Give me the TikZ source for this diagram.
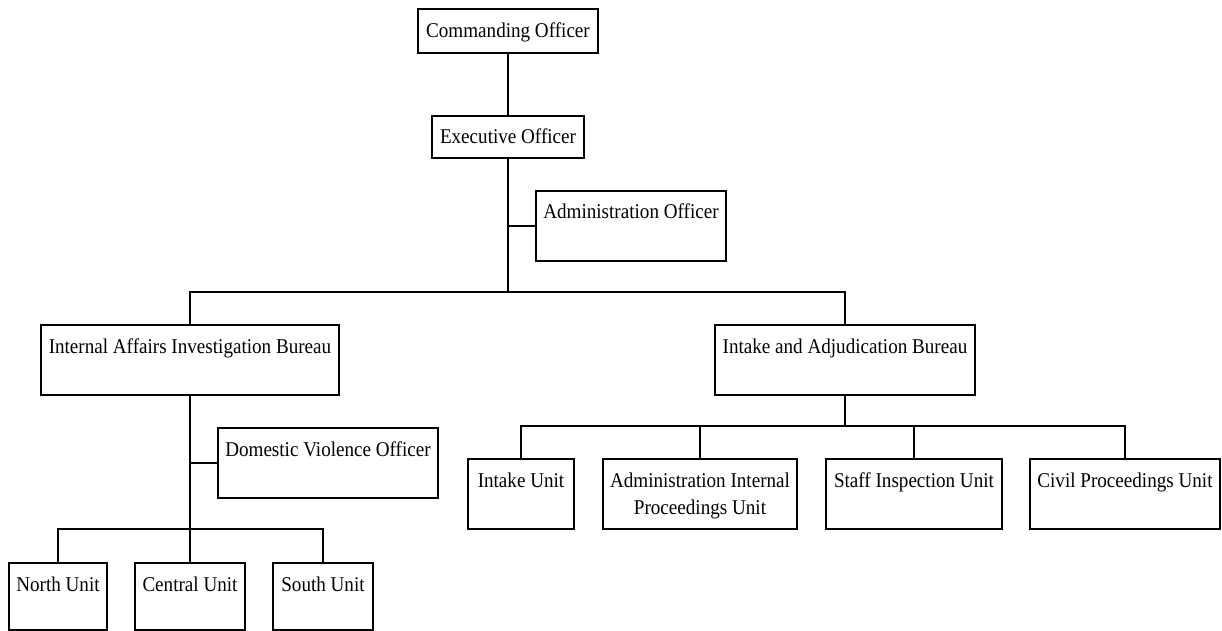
\documentclass[tikz,border=0pt]{standalone}
\usepackage{fontspec}
\setmainfont[FakeStretch=0.91]{Liberation Serif}
\usepackage{tikz}
\usetikzlibrary{positioning}

\newcommand{\orgfont}{\fontsize{21bp}{27bp}\selectfont}

\begin{document}
\begin{tikzpicture}
    [x=1bp, y=-1bp,
     unit/.style={draw, line width=2bp, inner sep=0pt, anchor=north,
       text height=28bp, text depth=42bp, font=\orgfont},
     link/.style={line width=2bp}]
    \useasboundingbox (0,0) rectangle (1222,631);

    \node (co) [unit, minimum width=180bp, text height=29bp, text depth=15bp] at (508, 8) {
      \begin{tabular}[t]{c}
        Commanding Officer
      \end{tabular}
    };
    \node (eo) [unit, minimum width=152bp, text depth=14bp] at (508, 115) {
      \begin{tabular}[t]{c}
        Executive Officer
      \end{tabular}
    };
    \node (ao) [unit, minimum width=190bp] at (631, 190) {
      \begin{tabular}[t]{c}
        Administration Officer
      \end{tabular}
    };

    \node (iaib) [unit, minimum width=298bp] at (190, 324) {
      \begin{tabular}[t]{c}
        Internal Affairs Investigation Bureau
      \end{tabular}
    };
    \node (iab) [unit, minimum width=260bp] at (845, 324) {
      \begin{tabular}[t]{c}
        Intake and Adjudication Bureau
      \end{tabular}
    };

    \node (dv) [unit, minimum width=220bp] at (328, 427) {
      \begin{tabular}[t]{c}
        Domestic Violence Officer
      \end{tabular}
    };

    \node (intake) [unit, minimum width=106bp] at (521, 458) {
      \begin{tabular}[t]{c}
        Intake Unit
      \end{tabular}
    };
    \node (aip) [unit, minimum width=194bp] at (700, 458) {
      \begin{tabular}[t]{c}
        Administration Internal \\
        Proceedings Unit
      \end{tabular}
    };
    \node (staff) [unit, minimum width=176bp] at (914, 458) {
      \begin{tabular}[t]{c}
        Staff Inspection Unit
      \end{tabular}
    };
    \node (civil) [unit, minimum width=190bp] at (1125, 458) {
      \begin{tabular}[t]{c}
        Civil Proceedings Unit
      \end{tabular}
    };

    \node (north) [unit, minimum width=98bp, text depth=39bp] at (58, 562) {
      \begin{tabular}[t]{c}
        North Unit
      \end{tabular}
    };
    \node (central) [unit, minimum width=110bp, text depth=39bp] at (190, 562) {
      \begin{tabular}[t]{c}
        Central Unit
      \end{tabular}
    };
    \node (south) [unit, minimum width=100bp, text depth=39bp] at (323, 562) {
      \begin{tabular}[t]{c}
        South Unit
      \end{tabular}
    };

    \coordinate (split) at (508, 292);
    \coordinate (iasplit) at (190, 529);
    \coordinate (iabsplit) at (845, 426);

    \draw [link] (co) -- (eo);
    \draw [link] (eo.south) -- (split);
    \draw [link] (ao.west) -- (eo.south |- ao.west);
    \draw [link] (iaib.north) |- (split) -| (iab.north);

    \draw [link] (iaib.south) -- (iasplit);
    \draw [link] (dv.west) -- (iaib.south |- dv.west);
    \draw [link] (north.north) |- (iasplit) -| (south.north);
    \draw [link] (iasplit) -- (central.north);

    \draw [link] (iab.south) -- (iabsplit);
    \draw [link] (intake.north) |- (iabsplit) -| (civil.north);
    \draw [link] (aip.north) |- (iabsplit);
    \draw [link] (staff.north) |- (iabsplit);
  \end{tikzpicture}
\end{document}
